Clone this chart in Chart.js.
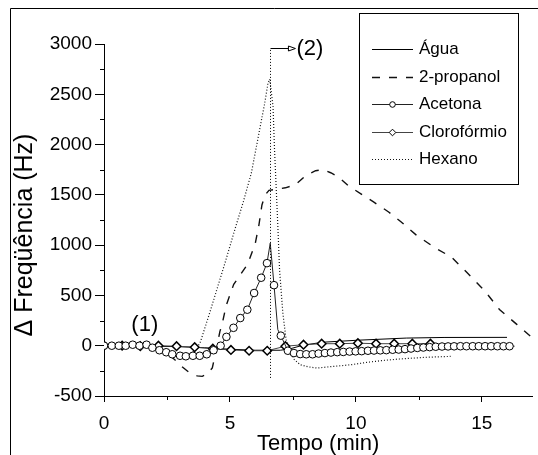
<!DOCTYPE html>
<html><head><meta charset="utf-8">
<script src="https://cdn.jsdelivr.net/npm/chart.js@4.4.0/dist/chart.umd.min.js"></script>
<style>html,body{margin:0;padding:0;background:#fff}#c{display:block}</style>
</head><body>
<canvas id="c" width="538" height="455"></canvas>
<script>
const FONT = '"Liberation Sans", Arial, sans-serif';

// ---- tick labels ----
const xTickValues = [0, 5, 10, 15];
const xMinorTicks = [2.5, 7.5, 12.5];
const yTickValues = [-500, 0, 500, 1000, 1500, 2000, 2500, 3000];
const yMinorTicks = [-250, 250, 750, 1250, 1750, 2250, 2750];

// ---- series ----
const seriesNames = ['Água', '2-propanol', 'Acetona', 'Clorofórmio', 'Hexano'];

const aguaT = [0, 1, 2, 3, 4, 5, 6, 6.6, 7.0, 7.4, 7.9, 8.7, 10.1, 12.0, 13.5, 16.0];
const aguaV = [0, 0, -5, -10, -20, -35, -45, -45, -45, -30, 5, 35, 55, 76, 82, 83];

const propT = [0, 0.5, 1, 1.5, 2, 2.5, 2.9, 3.1, 3.4, 3.7, 3.9, 4.1, 4.3, 4.45, 4.6, 4.7, 4.85, 5.15, 5.4, 5.7, 6.0, 6.15, 6.27, 6.4, 6.55, 6.8, 7.2, 7.6, 8.0, 8.4, 8.7, 9.0, 9.3, 9.7, 10.2, 10.7, 11.3, 11.8, 12.4, 13.1, 13.8, 14.4, 15.1, 15.7, 16.4, 17.0];
const propV = [0, 0, 0, 0, -10, -70, -160, -210, -270, -300, -305, -280, -220, -50, 140, 225, 400, 610, 700, 810, 1010, 1200, 1400, 1500, 1545, 1555, 1570, 1600, 1690, 1740, 1750, 1720, 1680, 1590, 1510, 1430, 1330, 1230, 1100, 980, 880, 730, 550, 360, 210, 80];

const acetT = [0, 0.31, 0.59, 0.86, 1.14, 1.41, 1.69, 1.92, 2.2, 2.47, 2.71, 3.02, 3.25, 3.53, 3.8, 4.08, 4.35, 4.63, 4.86, 5.14, 5.41, 5.69, 5.96, 6.24, 6.47, 6.6, 6.75, 6.9, 7.02,
  7.30, 7.54, 7.79, 8.03, 8.28, 8.52, 8.77, 9.01, 9.26, 9.50, 9.75, 9.99, 10.23, 10.48, 10.72, 10.97, 11.21, 11.46, 11.70, 11.95, 12.19, 12.44, 12.68, 12.93, 13.17, 13.42, 13.66, 13.90, 14.15, 14.39, 14.64, 14.88, 15.13, 15.37, 15.62, 15.86, 16.10, 16.3];
const acetV = [0, 0, 0, 0, 10, 0, 10, -20, -45, -65, -85, -100, -105, -100, -100, -85, -45, 0, 88, 178, 275, 358, 524, 676, 821, 1020, 602, 160, 100,
  -50, -73, -83, -85, -85, -78, -73, -68, -64, -62, -58, -56, -54, -50, -48, -46, -44, -40, -38, -34, -28, -22, -18, -14, -10, -8, -7, -6, -5, -5, -5, -5, -5, -5, -5, -5, -5, -5];
const acetMarked = [1,1,1,1,1,1,1,1,1,1,1,1,1,1,1,1,1,1,1,1,1,1,1,1,1,0,1,0,1,
  1,1,1,1,1,1,1,1,1,1,1,1,1,1,1,1,1,1,1,1,1,1,1,1,1,1,1,1,1,1,1,1,1,1,1,1,1,0];

const clorT = [0, 0.72, 1.44, 2.16, 2.88, 3.6, 4.32, 5.04, 5.76, 6.48, 7.2, 7.92, 8.64, 9.36, 10.08, 10.8, 11.52, 12.24, 12.96];
const clorV = [0, 0, -5, 0, -5, -15, -30, -42, -50, -50, -5, 10, 20, 20, 25, 20, 20, 20, 20];

const hexT = [0, 0.5, 1, 1.5, 2, 2.6, 3.0, 3.4, 3.7, 3.83, 4.2, 4.8, 5.2, 5.53, 5.85, 6.18, 6.38, 6.51, 6.58, 6.71, 6.77, 6.84, 6.9, 6.97, 7.1, 7.23, 7.4, 7.56, 7.8, 8.1, 8.47, 9.13, 9.78, 10.43, 11.09, 11.73, 12.78, 13.76];
const hexV = [0, 0, 0, -5, -20, -60, -120, -100, -20, 40, 330, 820, 1160, 1430, 1717, 2150, 2410, 2610, 2650, 2380, 1950, 1550, 1200, 755, 325, 60, -60, -140, -190, -210, -222, -205, -190, -166, -146, -132, -115, -106];

// ---- annotations (data coordinates) ----
const event2 = { t: 6.6, from: -320, to: 2960, arrowEnd: 7.6, label: '(2)' };
const event1 = { t: 1.62, v: 210, label: '(1)' };

const pts = (T, V) => T.map((t, i) => ({ x: t, y: V[i] }));

const datasets = [
  { label: seriesNames[0], data: pts(aguaT, aguaV), borderColor: '#000', borderWidth: 1, pointRadius: 0, order: 2 },
  { label: seriesNames[1], data: pts(propT, propV), borderColor: '#111', borderWidth: 1.4, borderDash: [8, 9], pointRadius: 0, order: 3 },
  { label: seriesNames[2], data: pts(acetT, acetV), borderColor: '#222', borderWidth: 1,
    pointStyle: 'circle', pointRadius: ctx => acetMarked[ctx.dataIndex] ? 3.8 : 0,
    pointBackgroundColor: '#fff', pointBorderColor: '#000', pointBorderWidth: 1, order: 0, mk: 'circle' },
  { label: seriesNames[3], data: pts(clorT, clorV), borderColor: '#444', borderWidth: 1,
    pointStyle: 'rectRot', pointRadius: 4.3, pointBackgroundColor: '#fff', pointBorderColor: '#000', pointBorderWidth: 1.5, order: 1, mk: 'diamond' },
  { label: seriesNames[4], data: pts(hexT, hexV), borderColor: '#111', borderWidth: 1.2, borderDash: [1, 2], pointRadius: 0, order: 4 }
];

const decor = {
  id: 'decor',
  afterDraw(chart) {
    const c = chart.ctx, xs = chart.scales.x, ys = chart.scales.y, a = chart.chartArea;
    c.save();
    // outer frame
    c.strokeStyle = '#000'; c.lineWidth = 1; c.setLineDash([]);
    c.beginPath(); c.moveTo(10.5, 455); c.lineTo(10.5, 8.5); c.lineTo(538, 8.5); c.stroke();
    // minor ticks
    c.beginPath();
    xMinorTicks.forEach(v => { const px = Math.round(xs.getPixelForValue(v)) + 0.5; c.moveTo(px, a.bottom); c.lineTo(px, a.bottom + 4); });
    yMinorTicks.forEach(v => { const py = Math.round(ys.getPixelForValue(v)) + 0.5; c.moveTo(a.left, py); c.lineTo(a.left - 4, py); });
    c.stroke();
    // event (2) line and arrow
    const ex = Math.round(xs.getPixelForValue(event2.t)) + 0.5;
    const ey0 = ys.getPixelForValue(event2.from), ey1 = Math.round(ys.getPixelForValue(event2.to)) + 0.5;
    c.setLineDash([1, 2]); c.beginPath(); c.moveTo(ex, ey0); c.lineTo(ex, ey1); c.stroke();
    c.setLineDash([]);
    const ax = xs.getPixelForValue(event2.arrowEnd);
    c.beginPath(); c.moveTo(ex, ey1); c.lineTo(ax - 6, ey1); c.stroke();
    c.beginPath(); c.moveTo(ax - 7, ey1 - 2.5); c.lineTo(ax, ey1); c.lineTo(ax - 7, ey1 + 2.5); c.closePath();
    c.fillStyle = '#fff'; c.fill(); c.stroke();
    c.fillStyle = '#000'; c.font = '22px ' + FONT; c.textBaseline = 'middle'; c.textAlign = 'left';
    c.fillText(event2.label, ax + 1, ey1);
    c.textAlign = 'center';
    c.fillText(event1.label, xs.getPixelForValue(event1.t), ys.getPixelForValue(event1.v));
    // y title
    c.save(); c.translate(25, 235); c.rotate(-Math.PI / 2);
    c.font = '25px ' + FONT; c.textAlign = 'center'; c.textBaseline = 'middle';
    c.fillText('\u0394 Freqüência (Hz)', 0, 0); c.restore();
    // legend box
    c.fillStyle = '#fff'; c.fillRect(359, 13, 159, 171);
    c.strokeStyle = '#000'; c.lineWidth = 1; c.strokeRect(359.5, 13.5, 159, 171);
    chart.data.datasets.forEach((ds, i) => {
      const y = Math.round(49 + i * 27.5) + 0.5;
      c.strokeStyle = ds.borderColor; c.lineWidth = ds.borderWidth; c.setLineDash(ds.borderDash || []);
      c.beginPath(); c.moveTo(372, y); c.lineTo(413, y); c.stroke();
      c.setLineDash([]); c.lineWidth = 1; c.strokeStyle = '#000'; c.fillStyle = '#fff';
      if (ds.mk === 'circle') { c.beginPath(); c.arc(392.5, y, 2.8, 0, Math.PI * 2); c.fill(); c.stroke(); }
      if (ds.mk === 'diamond') { c.beginPath(); c.moveTo(392.5, y - 3.3); c.lineTo(395.8, y); c.lineTo(392.5, y + 3.3); c.lineTo(389.2, y); c.closePath(); c.fill(); c.stroke(); }
      c.fillStyle = '#000'; c.font = '17px ' + FONT; c.textAlign = 'left'; c.textBaseline = 'middle';
      c.fillText(ds.label, 419, y);
    });
    c.restore();
  }
};

new Chart(document.getElementById('c'), {
  type: 'line',
  data: { datasets },
  options: {
    responsive: false, animation: false, devicePixelRatio: 1,
    layout: { padding: { top: 44, left: 0, right: 0, bottom: 0 } },
    plugins: { legend: { display: false }, tooltip: { enabled: false } },
    elements: { line: { tension: 0 } },
    scales: {
      x: {
        type: 'linear', min: 0, max: 17,
        afterBuildTicks: s => { s.ticks = xTickValues.map(v => ({ value: v })); },
        afterFit: s => { s.height = 59; },
        grid: { drawOnChartArea: false, drawTicks: true, tickLength: 6, tickColor: '#000' },
        border: { display: true, color: '#000', width: 1 },
        ticks: { font: { family: FONT, size: 19 }, color: '#000', padding: 10, maxRotation: 0, callback: v => String(v) },
        title: { display: true, text: 'Tempo (min)', font: { family: FONT, size: 22 }, color: '#000', padding: { top: 0, bottom: -2 } }
      },
      y: {
        type: 'linear', min: -500, max: 3000,
        afterBuildTicks: s => { s.ticks = yTickValues.map(v => ({ value: v })); },
        afterFit: s => { s.width = 104; },
        grid: { drawOnChartArea: false, drawTicks: true, tickLength: 9, tickColor: '#000' },
        border: { display: true, color: '#000', width: 1 },
        ticks: { font: { family: FONT, size: 19 }, color: '#000', padding: 3, callback: v => String(v) }
      }
    }
  },
  plugins: [decor]
});
</script>
</body></html>
